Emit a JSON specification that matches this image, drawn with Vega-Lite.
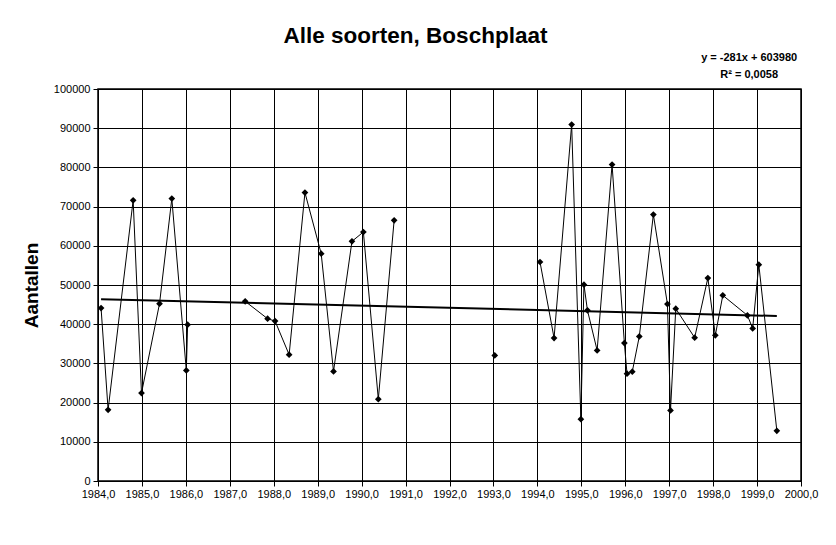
{
  "$schema": "https://vega.github.io/schema/vega-lite/v6.json",
  "width": 703,
  "height": 392,
  "autosize": {"type": "none"},
  "padding": {"left": 98, "top": 89, "right": 35, "bottom": 64},
  "background": "white",
  "title": {
    "text": "Alle soorten, Boschplaat",
    "font": "Liberation Sans",
    "fontSize": 22.5,
    "fontWeight": "bold",
    "color": "black",
    "anchor": "middle",
    "dx": -34,
    "offset": -14,
    "baseline": "alphabetic"
  },
  "config": {
    "view": {"stroke": "black", "strokeWidth": 1.5},
    "axis": {
      "labelFont": "Liberation Sans",
      "labelFontSize": 11,
      "labelColor": "black",
      "tickColor": "black",
      "domainColor": "black",
      "gridColor": "black",
      "gridOpacity": 1,
      "gridWidth": 1,
      "tickSize": 5,
      "labelPadding": 3,
      "labelOverlap": false,
      "titleFont": "Liberation Sans",
      "titleFontSize": 19,
      "titleFontWeight": "bold",
      "titleColor": "black"
    },
    "axisX": {
      "values": [1984, 1985, 1986, 1987, 1988, 1989, 1990, 1991, 1992, 1993, 1994, 1995, 1996, 1997, 1998, 1999, 2000],
      "labelPadding": 2,
      "labelFlush": false
    },
    "axisY": {
      "values": [0, 10000, 20000, 30000, 40000, 50000, 60000, 70000, 80000, 90000, 100000],
      "titlePadding": 12
    }
  },
  "datasets": {
    "counts": [
      {"year": 1984.07, "value": 44120, "seg": 1},
      {"year": 1984.23, "value": 18170, "seg": 1},
      {"year": 1984.80, "value": 71610, "seg": 1},
      {"year": 1984.99, "value": 22420, "seg": 1},
      {"year": 1985.40, "value": 45230, "seg": 1},
      {"year": 1985.68, "value": 72040, "seg": 1},
      {"year": 1986.01, "value": 28210, "seg": 1},
      {"year": 1986.04, "value": 39870, "seg": 1},
      {"year": 1987.35, "value": 45830, "seg": 2},
      {"year": 1987.86, "value": 41400, "seg": 2},
      {"year": 1988.03, "value": 40800, "seg": 2},
      {"year": 1988.35, "value": 32220, "seg": 2},
      {"year": 1988.71, "value": 73570, "seg": 2},
      {"year": 1989.08, "value": 58000, "seg": 2},
      {"year": 1989.36, "value": 27960, "seg": 2},
      {"year": 1989.78, "value": 61140, "seg": 2},
      {"year": 1990.04, "value": 63520, "seg": 2},
      {"year": 1990.38, "value": 20880, "seg": 2},
      {"year": 1990.74, "value": 66500, "seg": 2},
      {"year": 1993.03, "value": 32040, "seg": 3},
      {"year": 1994.06, "value": 55870, "seg": 4},
      {"year": 1994.38, "value": 36460, "seg": 4},
      {"year": 1994.78, "value": 90930, "seg": 4},
      {"year": 1994.99, "value": 15780, "seg": 4},
      {"year": 1995.06, "value": 50090, "seg": 4},
      {"year": 1995.14, "value": 43530, "seg": 4},
      {"year": 1995.36, "value": 33320, "seg": 4},
      {"year": 1995.70, "value": 80720, "seg": 4},
      {"year": 1995.98, "value": 35180, "seg": 4},
      {"year": 1996.04, "value": 27370, "seg": 4},
      {"year": 1996.16, "value": 27880, "seg": 4},
      {"year": 1996.32, "value": 36890, "seg": 4},
      {"year": 1996.64, "value": 67960, "seg": 4},
      {"year": 1996.96, "value": 45140, "seg": 4},
      {"year": 1997.03, "value": 18000, "seg": 4},
      {"year": 1997.15, "value": 43960, "seg": 4},
      {"year": 1997.58, "value": 36560, "seg": 4},
      {"year": 1997.88, "value": 51780, "seg": 4},
      {"year": 1998.05, "value": 37150, "seg": 4},
      {"year": 1998.22, "value": 47360, "seg": 4},
      {"year": 1998.78, "value": 42250, "seg": 4},
      {"year": 1998.90, "value": 38930, "seg": 4},
      {"year": 1999.04, "value": 55190, "seg": 4},
      {"year": 1999.45, "value": 12810, "seg": 4}
    ],
    "labels": [
      {"label": "y = -281x + 603980", "line": 1},
      {"label": "R² = 0,0058", "line": 2}
    ]
  },
  "layer": [
    {
      "data": {"name": "counts"},
      "mark": {"type": "line", "color": "black", "strokeWidth": 1},
      "encoding": {
        "x": {
          "field": "year",
          "type": "quantitative",
          "scale": {"domain": [1984, 2000], "nice": false, "zero": false},
          "axis": {
            "title": null,
            "labelExpr": "replace(format(datum.value, '.1f'), '.', ',')"
          }
        },
        "y": {
          "field": "value",
          "type": "quantitative",
          "scale": {"domain": [0, 100000], "nice": false, "zero": true},
          "axis": {
            "title": "Aantallen",
            "format": "d"
          }
        },
        "detail": {"field": "seg", "type": "nominal"}
      }
    },
    {
      "data": {"name": "counts"},
      "mark": {"type": "point", "shape": "diamond", "filled": true, "color": "black", "size": 45, "opacity": 1},
      "encoding": {
        "x": {"field": "year", "type": "quantitative"},
        "y": {"field": "value", "type": "quantitative"}
      }
    },
    {
      "data": {"name": "counts"},
      "transform": [{"regression": "value", "on": "year"}],
      "mark": {"type": "line", "color": "black", "strokeWidth": 2},
      "encoding": {
        "x": {"field": "year", "type": "quantitative"},
        "y": {"field": "value", "type": "quantitative"}
      }
    },
    {
      "data": {"name": "labels"},
      "transform": [{"filter": "datum.line == 1"}],
      "mark": {"type": "text", "font": "Liberation Sans", "fontSize": 11, "fontWeight": "bold", "color": "black", "align": "center", "baseline": "middle", "clip": false},
      "encoding": {
        "x": {"datum": 1998.82},
        "y": {"datum": 107990},
        "text": {"field": "label", "type": "nominal"}
      }
    },
    {
      "data": {"name": "labels"},
      "transform": [{"filter": "datum.line == 2"}],
      "mark": {"type": "text", "font": "Liberation Sans", "fontSize": 11, "fontWeight": "bold", "color": "black", "align": "center", "baseline": "middle", "clip": false},
      "encoding": {
        "x": {"datum": 1998.82},
        "y": {"datum": 103520},
        "text": {"field": "label", "type": "nominal"}
      }
    }
  ]
}
